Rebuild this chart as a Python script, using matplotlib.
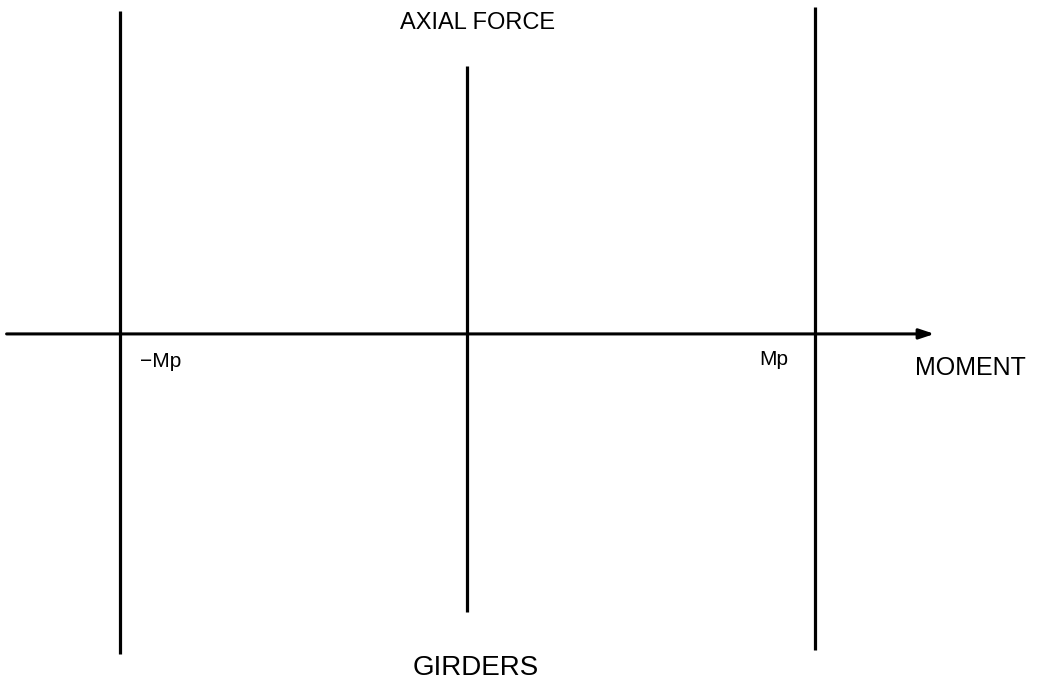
import numpy as np
import matplotlib as mpl
mpl.use("Agg")
from matplotlib import pyplot as plt

# moment positions (in units of Mp) and extent of each vertical line (axial force)
moment = [-1.0, 0.0, 1.0]
force_top = [0.93, 0.77, 0.94]
force_bottom = [-0.92, -0.80, -0.91]
tick_labels = ["\u2212Mp", "", "Mp"]

plt.rcParams["font.family"] = ["Liberation Sans", "DejaVu Sans"]

fig = plt.figure(figsize=(10.38, 6.88), dpi=100)
ax = fig.add_axes([0, 0, 1, 1])
ax.set_xlim(-1.344, 1.643)
ax.set_ylim(-1.019, 0.961)
ax.axis("off")

# vertical lines
ax.vlines(moment, force_bottom, force_top, colors="black", lw=2.3)

# moment axis with arrow
ax.annotate("", xy=(1.345, 0.0), xytext=(-1.325, 0.0),
            arrowprops=dict(arrowstyle="-|>,head_length=0.9,head_width=0.3",
                            color="black", lw=2.2, shrinkA=0, shrinkB=0))

# -Mp / Mp labels
ax.text(-0.94, -0.08, tick_labels[0], fontsize=15, ha="left", va="center")
ax.text(0.925, -0.075, tick_labels[2], fontsize=15, ha="right", va="center")

ax.text(1.29, -0.098, "MOMENT", fontsize=18, ha="left", va="center")
ax.text(0.03, 0.895, "AXIAL FORCE", fontsize=17, ha="center", va="center")
ax.text(0.026, -0.961, "GIRDERS", fontsize=20, ha="center", va="center")

fig.savefig("out.png", dpi=100)
